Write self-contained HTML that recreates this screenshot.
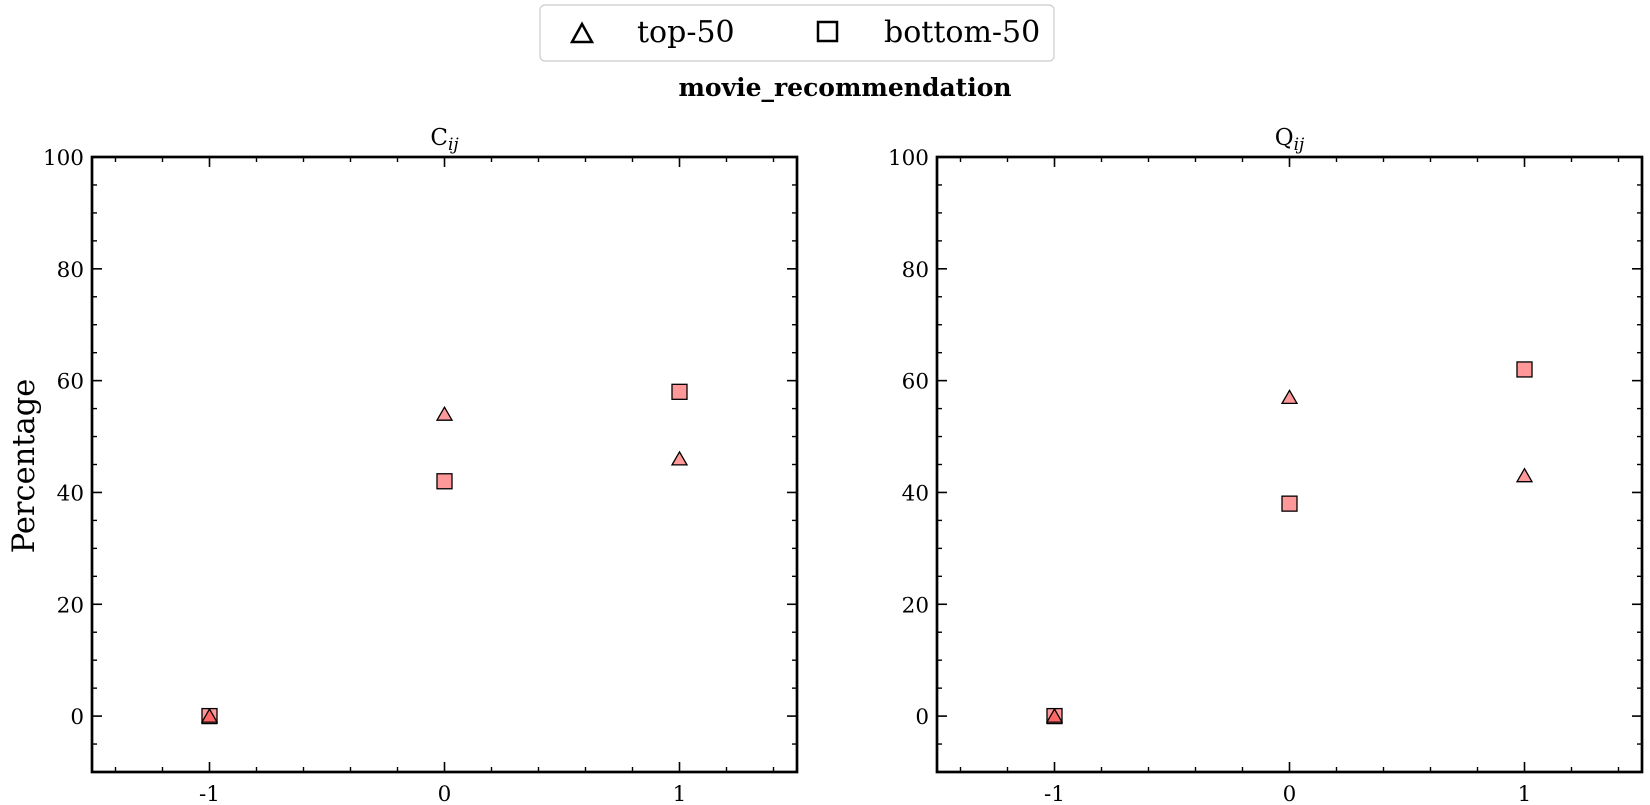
<!DOCTYPE html>
<html><head><meta charset="utf-8">
<style>
body{margin:0;background:#fff;}
svg{display:block;font-family:"DejaVu Serif","Liberation Serif",serif;}
</style></head>
<body>
<svg id="chart" width="1650" height="805">
<g>
<rect x="540" y="5" width="514" height="56" rx="5" fill="#fff" stroke="#ccc" stroke-width="1.2"/>
<polygon points="572,42 592,42 582,24" fill="none" stroke="#000" stroke-width="2.5"/>
<text x="637" y="42" font-size="30">top-50</text>
<rect x="818" y="22" width="19" height="19" fill="none" stroke="#000" stroke-width="2.5"/>
<text x="884" y="42" font-size="30">bottom-50</text>
</g>
<text x="845" y="96" font-size="25" font-weight="bold" text-anchor="middle">movie_recommendation</text>
<text transform="translate(34,466) rotate(-90)" font-size="30.5" text-anchor="middle">Percentage</text>
</svg>
<script>
const categories=[-1,0,1];
const yTicks=[0,20,40,60,80,100];
const xTickLabels=["-1","0","1"];
const cijTop=[0,54,46];
const cijBottom=[0,42,58];
const qijTop=[0,57,43];
const qijBottom=[0,38,62];
const panels=[
 {name:"cij",title:"C",left:92,top:157,right:797,bottom:772,top50:cijTop,bottom50:cijBottom},
 {name:"qij",title:"Q",left:937,top:157,right:1642,bottom:772,top50:qijTop,bottom50:qijBottom}
];
const svg=document.getElementById('chart');
const NS="http://www.w3.org/2000/svg";
function mk(tag,attrs,parent){const e=document.createElementNS(NS,tag);for(const k in attrs)e.setAttribute(k,attrs[k]);(parent||svg).appendChild(e);return e;}
panels.forEach(p=>{
 const g=mk('g',{});
 
 
 const xs=v=>p.left+(v+1.5)/3*(p.right-p.left);
 const ys=v=>p.bottom-(v+10)/110*(p.bottom-p.top);
 for(let i=-14;i<=14;i+=2){const v=i/10;if(Math.abs(v-Math.round(v))<1e-9)continue;const x=xs(v);
  mk('line',{x1:x,x2:x,y1:p.bottom,y2:p.bottom-5,stroke:'#000','stroke-width':1.4},g);
  mk('line',{x1:x,x2:x,y1:p.top,y2:p.top+5,stroke:'#000','stroke-width':1.4},g);}
 for(let v=-5;v<100;v+=5){if(v%20===0)continue;const y=ys(v);
  mk('line',{x1:p.left,x2:p.left+5,y1:y,y2:y,stroke:'#000','stroke-width':1.4},g);
  mk('line',{x1:p.right,x2:p.right-5,y1:y,y2:y,stroke:'#000','stroke-width':1.4},g);}
 categories.forEach((c,i)=>{const x=xs(c);
  mk('line',{x1:x,x2:x,y1:p.bottom,y2:p.bottom-10,stroke:'#000','stroke-width':1.6},g);
  mk('line',{x1:x,x2:x,y1:p.top,y2:p.top+10,stroke:'#000','stroke-width':1.6},g);
  const t=mk('text',{x:x,y:p.bottom+29,'font-size':21.5,'text-anchor':'middle'},g);t.textContent=xTickLabels[i];
  
  });
 yTicks.forEach(v=>{const y=ys(v);
  mk('line',{x1:p.left,x2:p.left+10,y1:y,y2:y,stroke:'#000','stroke-width':1.6},g);
  mk('line',{x1:p.right,x2:p.right-10,y1:y,y2:y,stroke:'#000','stroke-width':1.6},g);
  const t=mk('text',{x:p.left-8,y:y+8,'font-size':21.5,'text-anchor':'end'},g);t.textContent=v;
  
  });
 const fr=mk('rect',{x:p.left,y:p.top,width:p.right-p.left,height:p.bottom-p.top,fill:'none',stroke:'#000','stroke-width':2.7},g);
 
 
 const tt=mk('text',{x:(p.left+p.right)/2,y:p.top-12,'font-size':23,'text-anchor':'middle'},g);
 tt.innerHTML=p.title+'<tspan font-size="17" font-style="italic" dy="5">ij</tspan>';
 
 
 categories.forEach((c,i)=>{
  const x=xs(c),y1=ys(p.bottom50[i]);
  const s=mk('rect',{x:x-7.5,y:y1-7.5,width:15,height:15,fill:'#ff3333','fill-opacity':0.5,stroke:'#000','stroke-width':1.3},g);
  
  
  const y2=ys(p.top50[i]);
  const tr=mk('polygon',{points:`${x-7.5},${y2+6} ${x+7.5},${y2+6} ${x},${y2-7}`,fill:'#ff3333','fill-opacity':0.5,stroke:'#000','stroke-width':1.3},g);
  
  
 });
});
</script>
</body></html>
